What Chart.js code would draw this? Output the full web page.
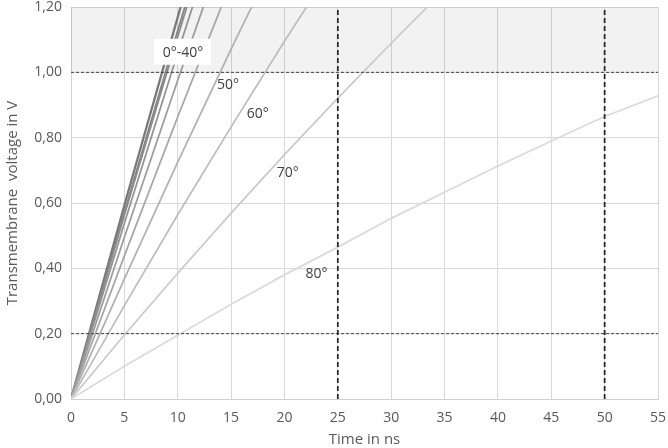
<!DOCTYPE html>
<html>
<head>
<meta charset="utf-8">
<script src="https://cdn.jsdelivr.net/npm/chart.js@4.4.0/dist/chart.umd.min.js"></script>
<style>
  html, body { margin: 0; padding: 0; background: #fff; }
  #wrap { width: 668px; height: 448px; }
</style>
</head>
<body>
<div id="wrap"><canvas id="chart"></canvas></div>
<script>
/* time axis samples (ns) */
const times = [0, 5, 10, 15, 20, 25, 30, 35, 40, 45, 50, 55];

/* transmembrane voltage (V) per angle */
const vRef = [0, 0.593, 1.169, 1.728];
const v0   = [0, 0.572, 1.128, 1.666];
const v10  = [0, 0.563, 1.110, 1.640];
const v20  = [0, 0.538, 1.060, 1.566];
const v30  = [0, 0.495, 0.976, 1.443];
const v40  = [0, 0.438, 0.864, 1.276];
const v50  = [0, 0.368, 0.725, 1.071, 1.407];
const v60  = [0, 0.286, 0.564, 0.833, 1.095, 1.349];
const v70  = [0, 0.196, 0.385, 0.569, 0.748, 0.921, 1.089, 1.253];
const v80  = [0, 0.100, 0.195, 0.290, 0.380, 0.465, 0.553, 0.633, 0.713, 0.790, 0.865, 0.928];

/* reference markers */
const refTimes = [25, 50];
const refVoltages = [0.2, 1.0];
const bandRange = [1.0, 1.2];

const xTicks = { min: 0, max: 55, step: 5 };
const yTicks = { min: 0, max: 1.2, step: 0.2 };

const angleLabels = [
  { text: "0°-40°", x: 10.5, y: 1.063, box: true },
  { text: "50°", x: 14.7, y: 0.965 },
  { text: "60°", x: 17.5, y: 0.876 },
  { text: "70°", x: 20.3, y: 0.695 },
  { text: "80°", x: 23.0, y: 0.386 },
];

const pts = vals => vals.map((v, i) => ({ x: times[i], y: v }));
const curve = (label, vals, color, w) => ({
  label, data: pts(vals), borderColor: color, borderWidth: w || 1.75,
  pointRadius: 0, fill: false, tension: 0, order: 5,
});

const datasets = [
  curve("80°", v80, "#dadada"),
  curve("70°", v70, "#cacaca"),
  curve("60°", v60, "#bdbdbd"),
  curve("50°", v50, "#b1b1b1"),
  curve("40°", v40, "#a6a6a6"),
  curve("30°", v30, "#9c9c9c"),
  curve("20°", v20, "#939393"),
  curve("10°", v10, "#8a8a8a"),
  curve("0°", v0, "#838383"),
  curve("ref", vRef, "#787878", 2.25),
  {
    label: "band", data: [{ x: xTicks.min, y: bandRange[1] }, { x: xTicks.max, y: bandRange[1] }],
    borderWidth: 0, pointRadius: 0, backgroundColor: "rgba(0,0,0,0.05)",
    fill: { value: bandRange[0] }, order: 20,
  },
];
refVoltages.forEach(v => datasets.push({
  label: "h" + v, data: [{ x: xTicks.min, y: v }, { x: xTicks.max, y: v }],
  borderColor: "#404040", borderWidth: 1, borderDash: [3, 2],
  pointRadius: 0, fill: false, order: 1,
}));
refTimes.forEach(t => datasets.push({
  label: "v" + t, data: [{ x: t, y: yTicks.min }, { x: t, y: yTicks.max }],
  borderColor: "#262626", borderWidth: 1.75, borderDash: [5, 3],
  pointRadius: 0, fill: false, order: 0,
}));

const labelPlugin = {
  id: "angleLabels",
  afterDatasetsDraw(chart) {
    const { ctx, scales: { x, y } } = chart;
    ctx.save();
    ctx.font = "14px 'Open Sans', sans-serif";
    ctx.textAlign = "center";
    ctx.textBaseline = "middle";
    angleLabels.forEach(l => {
      const px = x.getPixelForValue(l.x), py = y.getPixelForValue(l.y);
      if (l.box) {
        ctx.fillStyle = "#fff";
        ctx.fillRect(px - 29, py - 13, 57, 26);
      }
      ctx.fillStyle = "#404040";
      ctx.fillText(l.text, px, py + 1);
    });
    ctx.restore();
  },
};

const comma = v => Number(v).toFixed(2).replace(".", ",");
const tickFont = { family: "'Open Sans', sans-serif", size: 14 };
const titleFont = { family: "'Open Sans', sans-serif", size: 15, lineHeight: 1.1 };

new Chart(document.getElementById("chart"), {
  type: "line",
  data: { datasets },
  options: {
    responsive: true, maintainAspectRatio: false, animation: false,
    layout: { padding: { top: 7, right: 10, bottom: 0, left: 0 } },
    plugins: { legend: { display: false }, tooltip: { enabled: false } },
    scales: {
      x: {
        type: "linear", min: xTicks.min, max: xTicks.max,
        ticks: { stepSize: xTicks.step, color: "#595959", font: tickFont, padding: 11 },
        grid: { color: "#d9d9d9", drawTicks: false },
        border: { color: "#d0d0d0" },
        title: { display: true, text: "Time in ns", color: "#595959", font: titleFont, padding: { top: 0, bottom: 0 } },
        afterFit: s => { s.height = 49; s.paddingLeft = 0; s.paddingRight = 0; },
      },
      y: {
        min: yTicks.min, max: yTicks.max,
        ticks: { stepSize: yTicks.step, color: "#595959", font: tickFont, padding: 9, callback: comma },
        grid: { color: "#d9d9d9", drawTicks: false },
        border: { color: "#d0d0d0" },
        title: { display: true, text: "Transmembrane  voltage in V", color: "#595959", font: titleFont, padding: { top: 4, bottom: 0 } },
        afterFit: s => { s.width = 71; s.paddingTop = 0; s.paddingBottom = 0; },
      },
    },
  },
  plugins: [labelPlugin],
});
</script>
</body>
</html>
